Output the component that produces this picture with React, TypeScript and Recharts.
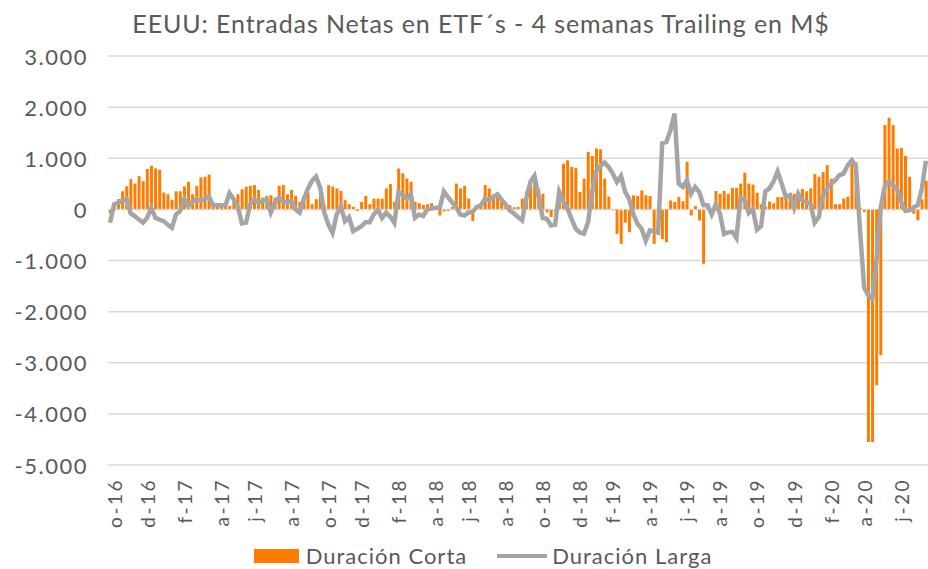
import React from "react";
import {
  Bar,
  CartesianGrid,
  ComposedChart,
  Legend,
  Line,
  ReferenceLine,
  XAxis,
  YAxis,
} from "recharts";

// Weekly series, first week ending 30-sep-2016 (M$)
const duracionCorta = [
  -80, 60, 200, 355, 450, 590, 505, 650, 550, 790,
  855, 800, 775, 330, 295, 185, 355, 355, 450, 540,
  295, 460, 625, 640, 680, 100, 65, 50, 100, 65,
  165, 295, 395, 445, 460, 475, 380, 230, 265, 275,
  230, 460, 475, 295, 380, 265, 145, 180, 330, 100,
  200, 330, 60, 475, 445, 410, 360, 180, 100, 50,
  -30, 145, 265, 100, 210, 210, 210, 410, 495, 150,
  800, 705, 605, 540, 145, 120, 90, 100, 120, 65,
  -120, -40, -30, 50, 505, 410, 460, 210, -230, 30,
  50, 475, 410, 295, 330, 200, 110, 80, 40, 45,
  210, 355, 470, 570, 405, 305, -60, -150, -40, 370,
  895, 960, 830, 810, 340, 600, 1125, 1045, 1190, 1175,
  600, 250, -20, -480, -675, -260, -445, 275, 260, 370,
  275, 260, -675, -450, -580, -640, 175, 145, 240, 160,
  930, -120, 65, -215, -1065, 65, -20, 360, 305, 360,
  305, 420, 420, 505, 720, 505, 485, 325, 100, 60,
  155, 120, 240, 245, 240, 310, 305, 280, 400, 355,
  410, 690, 640, 730, 865, 600, 100, 100, 215, 250,
  950, 920, 30, -50, -4550, -4550, -3440, -2850, 1650, 1790,
  1650, 1190, 1200, 1045, 635, -85, -215, 195, 560,
];

const duracionLarga = [
  -260, 100, 130, 170, 200, -80, -130, -200, -260, -165,
  30, -165, -200, -230, -300, -360, -100, -30, 200, 65,
  150, 200, 170, 200, 250, 80, 80, 80, 80, 315,
  200, 50, -275, -260, 100, 200, 130, 160, 200, -65,
  130, 230, 150, 130, 165, 0, -65, 200, 400, 560,
  640, 420, -65, -300, -460, -100, 65, -230, -150, -425,
  -380, -330, -250, -250, -100, 0, -170, -65, -145, -265,
  340, 280, 210, 295, -165, -100, -130, 0, 15, 30,
  30, 350, 240, 140, 50, -100, -120, -60, -50, 50,
  80, 210, 180, 240, 295, 190, 100, -20, -80, -150,
  -215, 210, 535, 655, 250, -170, -185, -315, -300, 340,
  155, 15, -185, -380, -450, -475, -250, 340, 745, 850,
  915, 830, 700, 535, 655, 340, 200, -100, -280, -380,
  -610, -410, -430, -455, 1290, 1320, 1550, 1875, 505, 440,
  570, 305, 440, 340, 80, 80, -100, 100, -80, -480,
  -450, -440, -560, 220, 190, -70, 0, -400, -330, 350,
  410, 540, 740, 500, 245, 280, 30, 310, 175, 145,
  100, -260, -150, 275, 405, 500, 570, 670, 700, 860,
  960, 840, -400, -1530, -1680, -1750, -1000, 20, 450, 540,
  470, 400, 150, -30, -20, 40, 80, 400, 950,
];

const tickMonths = [
  "2016-10", "2016-12", "2017-02", "2017-04", "2017-06", "2017-08",
  "2017-10", "2017-12", "2018-02", "2018-04", "2018-06", "2018-08",
  "2018-10", "2018-12", "2019-02", "2019-04", "2019-06", "2019-08",
  "2019-10", "2019-12", "2020-02", "2020-04", "2020-06",
];
const tickLabels = [
  "o-16", "d-16", "f-17", "a-17", "j-17", "a-17",
  "o-17", "d-17", "f-18", "a-18", "j-18", "a-18",
  "o-18", "d-18", "f-19", "a-19", "j-19", "a-19",
  "o-19", "d-19", "f-20", "a-20", "j-20",
];
const yTicks = [3000, 2000, 1000, 0, -1000, -2000, -3000, -4000, -5000];

const FONT = "Lato, 'Open Sans', sans-serif";
const TEXT = "#595959";
const ORANGE = "#ff7c00";
const GREY = "#a5a5a5";

const weeks = duracionCorta.map((_, i) =>
  new Date(Date.UTC(2016, 8, 30 + 7 * i)).toISOString().slice(0, 10),
);

const data = weeks.map((week, i) => ({
  week,
  corta: duracionCorta[i],
  larga: duracionLarga[i],
}));

const tickWeeks = tickMonths.map((m) => weeks.find((w) => w.startsWith(m))!);

function fmtY(v: number) {
  const s = Math.abs(v)
    .toString()
    .replace(/\B(?=(\d{3})+(?!\d))/g, ".");
  return v < 0 ? `-${s}` : s;
}

function XTick({ x, y, payload }: any) {
  const idx = tickWeeks.indexOf(payload.value);
  return (
    <text
      x={x}
      y={y}
      transform={`rotate(-90, ${x}, ${y})`}
      textAnchor="end"
      dominantBaseline="central"
      fontSize={19}
      letterSpacing={2.5}
      fontFamily={FONT}
      fill={TEXT}
    >
      {idx >= 0 ? tickLabels[idx] : ""}
    </text>
  );
}

function YTick({ x, y, payload }: any) {
  return (
    <text
      x={x}
      y={y}
      textAnchor="end"
      dominantBaseline="central"
      fontSize={22}
      letterSpacing={1.5}
      fontFamily={FONT}
      fill={TEXT}
    >
      {fmtY(payload.value)}
    </text>
  );
}

function LegendBox() {
  return (
    <div
      style={{
        display: "flex",
        justifyContent: "center",
        alignItems: "center",
        gap: 30,
        height: 26,
        marginTop: 8,
        marginLeft: 38,
        fontFamily: FONT,
        fontSize: 22,
        lineHeight: "24px",
        letterSpacing: 1,
        color: TEXT,
      }}
    >
      <span style={{ display: "flex", alignItems: "center", gap: 7 }}>
        <span style={{ width: 45, height: 14, background: ORANGE }} />
        Duración Corta
      </span>
      <span style={{ display: "flex", alignItems: "center", gap: 5 }}>
        <span style={{ width: 50, height: 4, background: GREY }} />
        Duración Larga
      </span>
    </div>
  );
}

export default function App() {
  return (
    <div
      style={{
        position: "absolute",
        top: 0,
        left: 0,
        width: 928,
        height: 569,
        background: "#fff",
        overflow: "hidden",
      }}
    >
      <div
        style={{
          position: "absolute",
          top: 8,
          left: 481,
          transform: "translateX(-50%)",
          whiteSpace: "nowrap",
          fontFamily: FONT,
          fontSize: 25,
          letterSpacing: 0.9,
          color: TEXT,
        }}
      >
        EEUU: Entradas Netas en ETF´s - 4 semanas Trailing en M$
      </div>
      <ComposedChart
        width={928}
        height={569}
        data={data}
        margin={{ top: 56, right: 0, bottom: 0, left: 0 }}
        barCategoryGap="18%"
      >
        <CartesianGrid
          vertical={false}
          horizontalValues={yTicks.filter((v) => v !== 0)}
          stroke="#d9d9d9"
          strokeWidth={1.5}
        />
        <XAxis
          dataKey="week"
          ticks={tickWeeks}
          interval={0}
          axisLine={false}
          tickLine={false}
          tickSize={0}
          tickMargin={13}
          height={70}
          tick={<XTick />}
        />
        <YAxis
          width={108}
          domain={[-5000, 3000]}
          ticks={yTicks}
          interval={0}
          axisLine={false}
          tickLine={false}
          tickSize={0}
          tickMargin={20}
          tick={<YTick />}
        />
        <ReferenceLine y={0} stroke="#d0d0d0" strokeWidth={1.5} strokeDasharray="4 3" />
        <Bar dataKey="corta" name="Duración Corta" fill={ORANGE} isAnimationActive={false} />
        <Line
          type="linear"
          dataKey="larga"
          name="Duración Larga"
          stroke={GREY}
          strokeWidth={4.5}
          dot={false}
          activeDot={false}
          isAnimationActive={false}
        />
        <Legend verticalAlign="bottom" height={34} content={<LegendBox />} />
      </ComposedChart>
    </div>
  );
}
